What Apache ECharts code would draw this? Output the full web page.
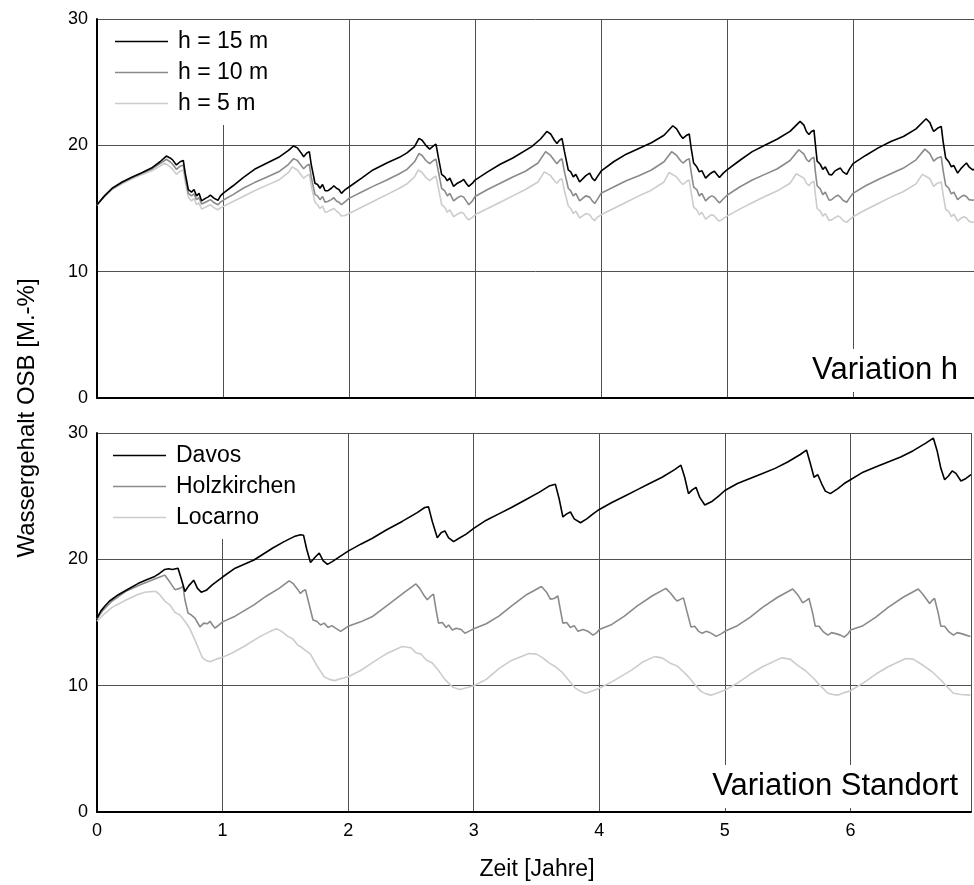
<!DOCTYPE html>
<html><head><meta charset="utf-8">
<script src="https://cdn.jsdelivr.net/npm/echarts@6/dist/echarts.min.js"></script>
<style>html,body{margin:0;padding:0;background:#fff}#c{width:974px;height:885px}</style>
</head><body><div id="c"></div>
<script>
const xTicks = [0,1,2,3,4,5,6];
const yTicks = [0,10,20,30];
const topNames = ['h = 15 m','h = 10 m','h = 5 m'];
const botNames = ['Davos','Holzkirchen','Locarno'];
const panelLabels = ['Variation h','Variation Standort'];
const xTitle = 'Zeit [Jahre]';
const yTitle = 'Wassergehalt OSB [M.-%]';

const h15 = [[0,15.3],[0.06,16.0],[0.12,16.6],[0.2,17.1],[0.28,17.5],[0.36,17.85],[0.44,18.25],[0.5,18.7],[0.55,19.15],[0.58,19.0],[0.6,18.85],[0.63,18.45],[0.66,18.7],[0.685,18.8],[0.7,17.8],[0.725,16.5],[0.75,16.3],[0.77,16.5],[0.79,16.0],[0.81,16.2],[0.83,15.6],[0.86,15.8],[0.88,15.9],[0.9,16.05],[0.93,15.8],[0.96,15.65],[0.98,16.0],[1.0,16.2],
[1.08,16.8],[1.16,17.45],[1.25,18.1],[1.35,18.6],[1.45,19.1],[1.52,19.6],[1.56,19.95],[1.59,19.8],[1.62,19.4],[1.64,19.1],[1.665,19.4],[1.685,19.5],[1.7,18.5],[1.73,17.0],[1.75,16.9],[1.77,16.6],[1.79,16.9],[1.81,16.4],[1.83,16.4],[1.86,16.6],[1.88,16.8],[1.9,16.6],[1.92,16.5],[1.94,16.2],[1.97,16.5],[2.0,16.7],
[2.1,17.4],[2.19,18.05],[2.3,18.6],[2.4,19.05],[2.46,19.4],[2.52,19.9],[2.555,20.55],[2.58,20.4],[2.61,20.0],[2.64,19.7],[2.67,19.95],[2.69,20.1],[2.71,19.0],[2.735,17.7],[2.76,17.5],[2.78,17.2],[2.8,17.4],[2.83,16.75],[2.86,17.0],[2.89,17.15],[2.91,17.3],[2.93,17.0],[2.95,16.75],[2.98,17.0],[3.0,17.25],
[3.1,17.9],[3.2,18.5],[3.3,19.0],[3.45,19.9],[3.52,20.5],[3.57,21.1],[3.6,20.9],[3.63,20.4],[3.65,20.15],[3.67,20.4],[3.69,20.55],[3.71,19.5],[3.74,18.05],[3.76,17.9],[3.78,17.5],[3.8,17.7],[3.83,17.1],[3.86,17.4],[3.88,17.6],[3.91,17.8],[3.93,17.4],[3.95,17.2],[3.97,17.5],[4.0,17.95],
[4.1,18.7],[4.2,19.3],[4.3,19.75],[4.4,20.2],[4.5,20.8],[4.57,21.55],[4.6,21.3],[4.63,20.8],[4.65,20.55],[4.68,20.8],[4.7,20.9],[4.715,19.8],[4.735,18.6],[4.76,18.3],[4.78,17.9],[4.8,18.0],[4.83,17.4],[4.86,17.7],[4.88,17.85],[4.9,17.95],[4.92,17.7],[4.94,17.45],[4.97,17.8],[5.0,18.05],
[5.1,18.8],[5.2,19.5],[5.3,20.0],[5.4,20.5],[5.5,21.1],[5.58,21.9],[5.61,21.6],[5.63,21.1],[5.65,20.85],[5.67,21.1],[5.69,21.2],[5.7,20.2],[5.715,18.75],[5.74,18.5],[5.76,18.1],[5.78,18.3],[5.81,17.7],[5.83,17.65],[5.86,18.0],[5.88,18.1],[5.9,18.2],[5.92,17.9],[5.95,17.7],[5.97,18.1],[6.0,18.55],
[6.1,19.2],[6.2,19.8],[6.3,20.3],[6.4,20.7],[6.5,21.3],[6.58,22.1],[6.61,21.8],[6.63,21.3],[6.64,21.1],[6.67,21.35],[6.7,21.5],[6.715,20.3],[6.735,19.0],[6.76,18.7],[6.78,18.3],[6.8,18.4],[6.83,17.8],[6.86,18.2],[6.88,18.4],[6.9,18.6],[6.92,18.3],[6.95,18.05],[6.96,18.1]];

const h10 = [[0,15.3],[0.06,16.0],[0.12,16.55],[0.2,17.05],[0.28,17.45],[0.36,17.8],[0.44,18.15],[0.5,18.55],[0.55,18.9],[0.58,18.7],[0.6,18.5],[0.63,18.1],[0.66,18.35],[0.685,18.45],[0.7,17.5],[0.725,16.2],[0.75,16.0],[0.77,16.15],[0.79,15.7],[0.81,15.85],[0.83,15.35],[0.86,15.5],[0.88,15.6],[0.9,15.7],[0.93,15.45],[0.96,15.3],[0.98,15.5],[1.0,15.65],
[1.08,16.1],[1.16,16.6],[1.25,17.05],[1.35,17.5],[1.45,17.95],[1.52,18.5],[1.56,18.95],[1.59,18.8],[1.62,18.4],[1.64,18.15],[1.665,18.4],[1.685,18.5],[1.7,17.5],[1.73,16.1],[1.75,16.0],[1.77,15.7],[1.79,15.95],[1.81,15.5],[1.83,15.55],[1.86,15.7],[1.88,15.85],[1.9,15.6],[1.92,15.5],[1.94,15.3],[1.97,15.55],[2.0,15.8],
[2.1,16.3],[2.19,16.75],[2.3,17.25],[2.4,17.75],[2.46,18.1],[2.52,18.7],[2.555,19.35],[2.58,19.2],[2.61,18.8],[2.64,18.55],[2.67,18.8],[2.69,18.9],[2.71,17.9],[2.735,16.6],[2.76,16.4],[2.78,16.0],[2.8,16.2],[2.83,15.6],[2.86,15.85],[2.89,16.0],[2.91,15.9],[2.93,15.6],[2.95,15.3],[2.98,15.6],[3.0,15.95],
[3.1,16.5],[3.2,17.0],[3.3,17.5],[3.4,17.95],[3.5,18.6],[3.56,19.5],[3.6,19.2],[3.63,18.8],[3.65,18.55],[3.67,18.8],[3.69,18.95],[3.71,17.9],[3.74,16.6],[3.76,16.4],[3.78,16.0],[3.8,16.2],[3.83,15.6],[3.86,15.85],[3.88,16.0],[3.91,15.9],[3.93,15.6],[3.95,15.4],[3.97,15.7],[4.0,16.2],
[4.1,16.7],[4.2,17.2],[4.3,17.6],[4.4,18.05],[4.5,18.7],[4.56,19.5],[4.6,19.2],[4.63,18.8],[4.65,18.6],[4.68,18.85],[4.7,18.95],[4.715,17.9],[4.735,16.7],[4.76,16.5],[4.78,16.0],[4.8,16.2],[4.83,15.6],[4.86,15.9],[4.88,16.0],[4.9,15.9],[4.92,15.65],[4.94,15.45],[4.97,15.75],[5.0,16.05],
[5.1,16.7],[5.2,17.25],[5.3,17.7],[5.4,18.15],[5.5,18.8],[5.57,19.65],[5.61,19.3],[5.63,18.9],[5.65,18.7],[5.67,18.95],[5.69,19.05],[5.7,18.0],[5.715,16.8],[5.74,16.55],[5.76,16.1],[5.78,16.3],[5.81,15.65],[5.83,15.7],[5.86,15.95],[5.88,16.05],[5.9,15.9],[5.92,15.65],[5.95,15.5],[5.97,15.8],[6.0,16.2],
[6.1,16.8],[6.2,17.3],[6.3,17.75],[6.4,18.2],[6.5,18.85],[6.57,19.7],[6.61,19.35],[6.63,18.95],[6.64,18.75],[6.67,19.0],[6.7,19.1],[6.715,18.0],[6.735,16.85],[6.76,16.6],[6.78,16.15],[6.8,16.3],[6.83,15.7],[6.86,15.95],[6.88,16.05],[6.9,15.95],[6.92,15.7],[6.95,15.65],[6.96,15.7]];

const h5 = [[0,15.25],[0.06,15.95],[0.12,16.5],[0.2,16.95],[0.28,17.35],[0.36,17.7],[0.44,18.0],[0.5,18.35],[0.54,18.6],[0.58,18.3],[0.6,18.1],[0.63,17.7],[0.66,17.95],[0.685,18.05],[0.7,17.1],[0.725,15.9],[0.75,15.6],[0.77,15.8],[0.79,15.3],[0.81,15.45],[0.83,14.95],[0.86,15.1],[0.88,15.2],[0.9,15.3],[0.93,15.05],[0.96,14.9],[0.98,15.05],[1.0,15.15],
[1.08,15.55],[1.16,15.95],[1.25,16.4],[1.35,16.85],[1.45,17.3],[1.52,17.85],[1.55,18.3],[1.59,18.05],[1.62,17.65],[1.64,17.4],[1.665,17.6],[1.685,17.7],[1.7,16.8],[1.73,15.5],[1.75,15.3],[1.77,15.0],[1.79,15.2],[1.81,14.7],[1.83,14.75],[1.86,14.9],[1.88,15.0],[1.9,14.8],[1.92,14.65],[1.94,14.4],[1.97,14.45],[2.0,14.6],
[2.1,15.1],[2.19,15.55],[2.3,16.1],[2.4,16.6],[2.46,16.95],[2.52,17.5],[2.55,18.05],[2.58,17.85],[2.61,17.45],[2.64,17.2],[2.67,17.45],[2.69,17.55],[2.71,16.6],[2.735,15.3],[2.76,15.1],[2.78,14.7],[2.8,14.9],[2.83,14.35],[2.86,14.55],[2.89,14.7],[2.91,14.6],[2.93,14.3],[2.95,14.1],[2.98,14.3],[3.0,14.5],
[3.1,15.0],[3.2,15.5],[3.3,16.0],[3.4,16.5],[3.5,17.1],[3.55,17.9],[3.6,17.6],[3.63,17.2],[3.65,17.0],[3.67,17.25],[3.69,17.35],[3.71,16.4],[3.74,15.2],[3.76,15.0],[3.78,14.6],[3.8,14.8],[3.83,14.25],[3.86,14.45],[3.88,14.6],[3.91,14.5],[3.93,14.2],[3.95,14.05],[3.97,14.3],[4.0,14.5],
[4.1,15.0],[4.2,15.5],[4.3,16.0],[4.4,16.45],[4.5,17.1],[4.54,17.85],[4.6,17.5],[4.63,17.1],[4.65,16.9],[4.68,17.15],[4.7,17.25],[4.715,16.3],[4.735,15.1],[4.76,14.9],[4.78,14.5],[4.8,14.7],[4.83,14.15],[4.86,14.4],[4.88,14.5],[4.9,14.4],[4.92,14.15],[4.94,14.0],[4.97,14.2],[5.0,14.4],
[5.1,14.95],[5.2,15.45],[5.3,15.95],[5.4,16.4],[5.5,17.0],[5.55,17.75],[5.61,17.4],[5.63,17.0],[5.65,16.8],[5.67,17.05],[5.69,17.15],[5.7,16.2],[5.715,15.0],[5.74,14.8],[5.76,14.4],[5.78,14.6],[5.81,14.05],[5.83,14.1],[5.86,14.3],[5.88,14.4],[5.9,14.3],[5.92,14.05],[5.95,13.9],[5.97,14.1],[6.0,14.35],
[6.1,14.9],[6.2,15.4],[6.3,15.9],[6.4,16.35],[6.5,16.95],[6.55,17.7],[6.61,17.35],[6.63,16.95],[6.64,16.75],[6.67,17.0],[6.7,17.1],[6.715,16.1],[6.735,14.95],[6.76,14.75],[6.78,14.35],[6.8,14.55],[6.83,14.0],[6.86,14.25],[6.88,14.35],[6.9,14.25],[6.92,14.0],[6.95,13.9],[6.96,13.95]];

const davos = [[0,15.35],[0.03,15.9],[0.063,16.3],[0.1,16.7],[0.17,17.2],[0.25,17.65],[0.33,18.1],[0.4,18.4],[0.46,18.65],[0.5,18.9],[0.54,19.2],[0.57,19.25],[0.6,19.2],[0.645,19.3],[0.67,18.5],[0.7,17.45],[0.73,17.9],[0.77,18.35],[0.8,17.7],[0.83,17.4],[0.87,17.55],[0.92,18.0],[1.0,18.6],
[1.1,19.3],[1.25,19.95],[1.4,20.9],[1.49,21.4],[1.57,21.8],[1.62,21.95],[1.645,21.9],[1.67,20.8],[1.7,19.75],[1.74,20.2],[1.77,20.5],[1.8,19.9],[1.835,19.6],[1.87,19.8],[1.93,20.2],[2.0,20.65],
[2.1,21.2],[2.19,21.65],[2.3,22.3],[2.43,23.0],[2.55,23.7],[2.61,24.1],[2.64,24.15],[2.67,23.0],[2.71,21.7],[2.74,22.1],[2.77,22.25],[2.8,21.7],[2.84,21.4],[2.88,21.65],[2.94,22.0],[3.0,22.45],
[3.1,23.1],[3.2,23.6],[3.3,24.1],[3.41,24.7],[3.52,25.3],[3.6,25.8],[3.65,25.95],[3.68,24.8],[3.71,23.35],[3.74,23.6],[3.77,23.75],[3.8,23.2],[3.85,22.9],[3.9,23.2],[3.95,23.6],[4.0,23.95],
[4.1,24.5],[4.2,25.0],[4.3,25.5],[4.4,26.0],[4.5,26.5],[4.6,27.1],[4.65,27.45],[4.68,26.5],[4.71,25.2],[4.74,25.5],[4.77,25.7],[4.8,24.9],[4.84,24.3],[4.9,24.6],[4.95,25.0],[5.0,25.45],
[5.1,26.0],[5.2,26.4],[5.3,26.8],[5.4,27.2],[5.5,27.7],[5.6,28.3],[5.65,28.65],[5.68,27.6],[5.71,26.5],[5.74,26.7],[5.77,26.0],[5.8,25.4],[5.84,25.2],[5.9,25.6],[5.95,26.0],[6.0,26.3],
[6.1,26.9],[6.2,27.3],[6.3,27.7],[6.4,28.1],[6.5,28.6],[6.6,29.2],[6.66,29.6],[6.69,28.6],[6.72,27.2],[6.75,26.3],[6.78,26.6],[6.81,27.0],[6.84,26.8],[6.88,26.2],[6.92,26.4],[6.96,26.7]];

const holzkirchen = [[0,15.3],[0.05,16.0],[0.12,16.7],[0.235,17.5],[0.35,18.0],[0.45,18.4],[0.5,18.6],[0.54,18.75],[0.58,18.2],[0.62,17.6],[0.66,17.7],[0.685,17.85],[0.7,16.8],[0.725,15.75],[0.75,15.6],[0.78,15.35],[0.8,15.0],[0.82,14.65],[0.85,14.95],[0.88,14.9],[0.9,15.1],[0.92,14.8],[0.94,14.55],[0.97,14.8],[1.0,15.05],
[1.1,15.5],[1.25,16.4],[1.35,17.1],[1.45,17.7],[1.53,18.3],[1.56,18.1],[1.6,17.6],[1.62,17.3],[1.64,17.5],[1.66,17.6],[1.69,16.4],[1.72,15.2],[1.75,15.1],[1.78,14.8],[1.81,14.95],[1.84,14.6],[1.87,14.75],[1.9,14.55],[1.94,14.3],[1.97,14.5],[2.0,14.7],
[2.1,15.05],[2.19,15.45],[2.33,16.5],[2.45,17.4],[2.54,18.05],[2.57,17.7],[2.6,17.2],[2.63,16.8],[2.66,17.1],[2.68,17.25],[2.7,16.0],[2.72,14.95],[2.75,15.0],[2.78,14.6],[2.8,14.8],[2.83,14.4],[2.86,14.55],[2.9,14.45],[2.93,14.15],[2.96,14.3],[3.0,14.5],
[3.1,14.9],[3.2,15.5],[3.3,16.3],[3.42,17.2],[3.54,17.85],[3.58,17.4],[3.61,16.85],[3.64,16.9],[3.67,17.1],[3.69,16.0],[3.71,14.95],[3.74,15.0],[3.77,14.6],[3.8,14.75],[3.83,14.3],[3.87,14.45],[3.91,14.3],[3.95,14.0],[3.98,14.2],[4.0,14.45],
[4.1,14.85],[4.2,15.5],[4.3,16.3],[4.42,17.1],[4.53,17.7],[4.57,17.3],[4.6,16.9],[4.62,16.7],[4.65,16.85],[4.67,16.95],[4.7,15.8],[4.73,14.65],[4.76,14.7],[4.79,14.3],[4.82,14.15],[4.85,14.3],[4.88,14.2],[4.9,14.1],[4.93,13.9],[4.97,14.1],[5.0,14.3],
[5.1,14.75],[5.2,15.4],[5.3,16.2],[5.42,17.0],[5.54,17.65],[5.58,17.2],[5.62,16.55],[5.65,16.75],[5.67,16.9],[5.7,15.7],[5.72,14.7],[5.75,14.7],[5.78,14.3],[5.82,14.0],[5.85,14.2],[5.89,14.1],[5.92,14.0],[5.95,13.85],[5.98,14.1],[6.0,14.4],
[6.1,14.75],[6.2,15.4],[6.3,16.2],[6.42,17.0],[6.54,17.65],[6.58,17.2],[6.63,16.5],[6.65,16.75],[6.67,16.9],[6.7,15.7],[6.72,14.7],[6.75,14.7],[6.78,14.3],[6.82,14.0],[6.85,14.2],[6.89,14.1],[6.92,14.0],[6.955,13.9]];

const locarno = [[0,15.1],[0.05,15.6],[0.12,16.2],[0.235,16.8],[0.32,17.2],[0.38,17.4],[0.44,17.45],[0.47,17.45],[0.5,17.2],[0.54,16.7],[0.58,16.4],[0.62,15.8],[0.66,15.6],[0.7,15.1],[0.74,14.5],[0.78,13.6],[0.81,12.9],[0.84,12.2],[0.87,12.0],[0.9,11.9],[0.95,12.1],[1.0,12.25],
[1.08,12.6],[1.17,13.1],[1.3,13.9],[1.38,14.3],[1.43,14.5],[1.47,14.3],[1.52,13.9],[1.56,13.7],[1.6,13.2],[1.62,13.1],[1.66,12.8],[1.7,12.5],[1.75,11.6],[1.81,10.7],[1.85,10.5],[1.89,10.4],[1.94,10.55],[2.0,10.7],
[2.1,11.2],[2.19,11.8],[2.3,12.5],[2.43,13.1],[2.5,13.0],[2.54,12.6],[2.58,12.5],[2.62,12.05],[2.67,11.8],[2.72,11.2],[2.77,10.5],[2.83,9.9],[2.89,9.7],[2.95,9.85],[3.0,10.0],
[3.1,10.5],[3.2,11.35],[3.3,12.0],[3.44,12.55],[3.5,12.5],[3.55,12.2],[3.6,11.8],[3.65,11.5],[3.7,11.1],[3.75,10.5],[3.81,9.8],[3.85,9.55],[3.89,9.4],[3.95,9.6],[4.0,9.8],
[4.1,10.3],[4.26,11.25],[4.35,11.9],[4.44,12.3],[4.5,12.2],[4.57,11.75],[4.62,11.55],[4.67,11.1],[4.71,10.7],[4.76,10.1],[4.81,9.55],[4.85,9.35],[4.89,9.25],[4.95,9.45],[5.0,9.65],
[5.1,10.2],[5.2,10.9],[5.3,11.5],[5.45,12.2],[5.52,12.1],[5.58,11.6],[5.64,11.2],[5.71,10.55],[5.76,10.0],[5.82,9.4],[5.86,9.3],[5.9,9.25],[5.95,9.45],[6.0,9.6],
[6.1,10.2],[6.2,10.9],[6.3,11.5],[6.44,12.15],[6.5,12.1],[6.58,11.6],[6.65,11.1],[6.72,10.45],[6.77,9.9],[6.82,9.4],[6.88,9.3],[6.955,9.25]];

const colors = ['#000000','#8a8a8a','#cccccc'];
const FONT = 'Liberation Sans, Arial, sans-serif';

const chart = echarts.init(document.getElementById('c'), null, {renderer:'canvas'});

function xAx(idx, showLabels){
  return {type:'value', gridIndex:idx, min:0, max:6.96, interval:1,
    axisLine:{show:true, onZero:false, lineStyle:{color:'#000', width:2}},
    axisTick:{show:false},
    axisLabel:{show:showLabels, color:'#000', fontFamily:FONT, fontSize:18, margin:10,
      formatter: v => xTicks.includes(v) ? String(v) : ''},
    splitLine:{show:true, lineStyle:{color:'#505050', width:1}}};
}
function yAx(idx){
  return {type:'value', gridIndex:idx, min:0, max:30, interval:10,
    axisLine:{show:true, lineStyle:{color:'#000', width:2}},
    axisTick:{show:false},
    axisLabel:{color:'#000', fontFamily:FONT, fontSize:18, margin:9,
      formatter: v => yTicks.includes(v) ? String(v) : ''},
    splitLine:{show:true, lineStyle:{color:'#505050', width:1}}};
}
function ser(name, data, xi, ci){
  return {name:name, type:'line', xAxisIndex:xi, yAxisIndex:xi, data:data,
    showSymbol:false, symbol:'none', color:colors[ci], animation:false,
    lineStyle:{color:colors[ci], width:1.6}, z: 5-ci};
}
function leg(names, top, left){
  return {data:names, orient:'vertical', left:left, top:top, icon:'rect',
    itemWidth:53, itemHeight:1.5, itemGap:8, padding:[10,12,10,8],
    backgroundColor:'#fff', selectedMode:false,
    textStyle:{color:'#000', fontFamily:FONT, fontSize:23, padding:[0,0,0,5]}};
}

chart.setOption({
  animation:false,
  backgroundColor:'#fff',
  grid:[{left:97, top:19, right:0, height:379},{left:97, top:433, right:0, height:379}],
  xAxis:[xAx(0,false), xAx(1,true)],
  yAxis:[yAx(0), yAx(1)],
  legend:[leg(topNames, 20, 107), leg(botNames, 434, 105)],
  series:[ser(topNames[0],h15,0,0), ser(topNames[1],h10,0,1), ser(topNames[2],h5,0,2),
          ser(botNames[0],davos,1,0), ser(botNames[1],holzkirchen,1,1), ser(botNames[2],locarno,1,2)],
  graphic:[
    {type:'text', right:12, top:349, z:100, style:{text:panelLabels[0], fill:'#000', font:'31px '+FONT, backgroundColor:'#fff', padding:[6,4,6,8]}},
    {type:'text', right:12, top:765, z:100, style:{text:panelLabels[1], fill:'#000', font:'31px '+FONT, backgroundColor:'#fff', padding:[6,4,6,8]}},
    {type:'text', x:537, y:870, z:100, style:{text:xTitle, fill:'#000', font:'23px '+FONT, align:'center', verticalAlign:'middle'}},
    {type:'text', x:27, y:418, rotation:Math.PI/2, z:100, style:{text:yTitle, fill:'#000', font:'24px '+FONT, align:'center', verticalAlign:'middle'}}
  ]
});
</script></body></html>
